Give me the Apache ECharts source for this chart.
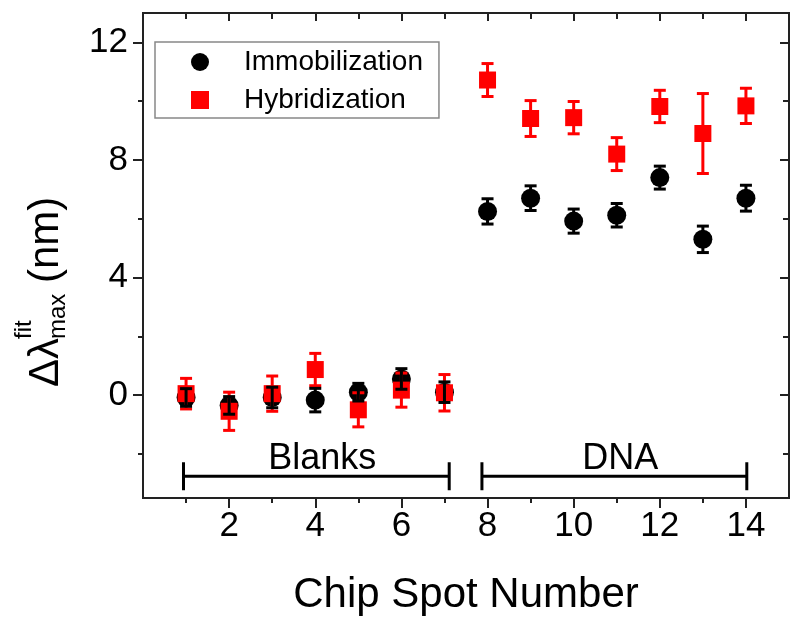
<!DOCTYPE html>
<html>
<head>
<meta charset="utf-8">
<script src="https://cdn.jsdelivr.net/npm/echarts@6/dist/echarts.min.js"></script>
<style>html,body{margin:0;padding:0;background:#fff}#c{width:800px;height:627px}</style>
</head>
<body>
<div id="c"></div>
<script>
// ---- data ----
const spots = [1, 2, 3, 4, 5, 6, 7, 8, 9, 10, 11, 12, 13, 14];
const immobilization = [-0.08, -0.35, -0.08, -0.17, 0.1, 0.55, 0.1, 6.25, 6.7, 5.92, 6.12, 7.4, 5.3, 6.7];
const immobilizationErr = [0.3, 0.3, 0.35, 0.4, 0.3, 0.35, 0.35, 0.43, 0.42, 0.41, 0.4, 0.39, 0.45, 0.44];
const hybridization = [0.05, -0.55, 0.05, 0.87, -0.5, 0.17, 0.08, 10.72, 9.41, 9.44, 8.2, 9.82, 8.9, 9.84];
const hybridizationErr = [0.52, 0.65, 0.6, 0.55, 0.58, 0.58, 0.62, 0.56, 0.61, 0.55, 0.56, 0.55, 1.36, 0.6];
const groupNames = ['Blanks', 'DNA'];
const groupStart = [0.94, 7.87];
const groupEnd = [7.11, 14.02];
const groupLevel = -2.76;
const xMajorTicks = [2, 4, 6, 8, 10, 12, 14];
const xMinorTicks = [1, 3, 5, 7, 9, 11, 13];
const yMajorTicks = [0, 4, 8, 12];
const yMinorTicks = [-2, 2, 6, 10];
const xRange = [0, 15];
const yRange = [-3.5, 13];

// ---- chart ----
const FONT = 'Liberation Sans, Arial, sans-serif';
const AX = '#222';
const chart = echarts.init(document.getElementById('c'), null, {renderer: 'canvas'});

function xAxisDef(pos, ticks, len, inside, withLabels) {
  const a = {
    type: 'value', position: pos, min: xRange[0], max: xRange[1], gridIndex: 0,
    axisLine: {show: true, onZero: false, lineStyle: {color: AX, width: 2}},
    axisTick: {show: true, inside: inside, length: len, customValues: ticks, lineStyle: {color: AX, width: 2}},
    axisLabel: {show: withLabels, customValues: ticks, fontSize: 35, color: '#000', margin: 11, fontFamily: FONT},
    splitLine: {show: false}
  };
  if (withLabels) {
    a.name = 'Chip Spot Number';
    a.nameLocation = 'middle';
    a.nameGap = 76;
    a.nameTextStyle = {fontSize: 42, color: '#000', fontFamily: FONT};
  }
  return a;
}
function yAxisDef(pos, ticks, len, inside, withLabels) {
  return {
    type: 'value', position: pos, min: yRange[0], max: yRange[1], gridIndex: 0,
    axisLine: {show: true, onZero: false, lineStyle: {color: AX, width: 2}},
    axisTick: {show: true, inside: inside, length: len, customValues: ticks, lineStyle: {color: AX, width: 2}},
    axisLabel: {show: withLabels, customValues: ticks, fontSize: 35, color: '#000', margin: 15, fontFamily: FONT},
    splitLine: {show: false}
  };
}

function errorBarSeries(name, vals, errs, color, z) {
  return {
    type: 'custom', name: name, xAxisIndex: 0, yAxisIndex: 0, z: z,
    data: spots.map((s, i) => [s, vals[i], errs[i]]),
    encode: {x: 0, y: [1]},
    renderItem: function (params, api) {
      const x = api.value(0), y = api.value(1), e = api.value(2);
      const top = api.coord([x, y + e]);
      const bot = api.coord([x, y - e]);
      const h = 6;
      const st = {stroke: color, lineWidth: 3};
      return {
        type: 'group',
        children: [
          {type: 'line', shape: {x1: top[0], y1: top[1], x2: bot[0], y2: bot[1]}, style: st},
          {type: 'line', shape: {x1: top[0] - h, y1: top[1], x2: top[0] + h, y2: top[1]}, style: st},
          {type: 'line', shape: {x1: bot[0] - h, y1: bot[1], x2: bot[0] + h, y2: bot[1]}, style: st}
        ]
      };
    },
    silent: true
  };
}

const option = {
  animation: false,
  textStyle: {fontFamily: FONT},
  grid: {left: 143, right: 11, top: 13, bottom: 129, containLabel: false},
  xAxis: [
    xAxisDef('bottom', xMajorTicks, 10, false, true),
    xAxisDef('bottom', xMinorTicks, 5, false, false),
    xAxisDef('top', xMajorTicks, 8, true, false),
    xAxisDef('top', xMinorTicks, 6, true, false)
  ],
  yAxis: [
    yAxisDef('left', yMajorTicks, 10, false, true),
    yAxisDef('left', yMinorTicks, 5, false, false),
    yAxisDef('right', yMajorTicks, 9, true, false),
    yAxisDef('right', yMinorTicks, 6, true, false)
  ],
  legend: {
    left: 155, top: 42, orient: 'vertical',
    padding: [6, 16, 4, 36],
    itemGap: 10, itemWidth: 18, itemHeight: 18,
    borderColor: '#888', borderWidth: 1.5,
    textStyle: {fontSize: 28, color: '#000', fontFamily: FONT, padding: [0, 0, 0, 30], lineHeight: 28},
    data: [{name: 'Immobilization', icon: 'circle'}, {name: 'Hybridization', icon: 'rect'}]
  },
  series: [
    {
      type: 'scatter', name: 'Immobilization', xAxisIndex: 0, yAxisIndex: 0, z: 2,
      symbol: 'circle', symbolSize: 19, itemStyle: {color: '#000', opacity: 1},
      data: spots.map((s, i) => [s, immobilization[i]])
    },
    {
      type: 'scatter', name: 'Hybridization', xAxisIndex: 0, yAxisIndex: 0, z: 3,
      symbol: 'rect', symbolSize: 17, itemStyle: {color: '#ff0000', opacity: 1},
      data: spots.map((s, i) => [s, hybridization[i]])
    },
    errorBarSeries('hybErr', hybridization, hybridizationErr, '#ff0000', 4),
    errorBarSeries('immErr', immobilization, immobilizationErr, '#000', 5),
    {
      type: 'custom', name: 'groups', xAxisIndex: 0, yAxisIndex: 0, z: 6, silent: true,
      data: groupNames.map((g, i) => [groupStart[i], groupEnd[i], groupLevel]),
      encode: {x: [0, 1], y: 2},
      renderItem: function (params, api) {
        const l = api.coord([api.value(0), api.value(2)]);
        const r = api.coord([api.value(1), api.value(2)]);
        const st = {stroke: '#000', lineWidth: 3};
        return {
          type: 'group',
          children: [
            {type: 'line', shape: {x1: l[0], y1: l[1], x2: r[0], y2: r[1]}, style: st},
            {type: 'line', shape: {x1: l[0], y1: l[1] - 14, x2: l[0], y2: l[1] + 14}, style: st},
            {type: 'line', shape: {x1: r[0], y1: r[1] - 14, x2: r[0], y2: r[1] + 14}, style: st},
            {type: 'text', style: {text: groupNames[params.dataIndex], x: (l[0] + r[0]) / 2 + 6, y: l[1] - 17,
              textAlign: 'center', textVerticalAlign: 'middle', font: '36px ' + FONT, fill: '#000'}}
          ]
        };
      }
    }
  ],
  graphic: [
    {
      type: 'group', x: 46, y: 387, rotation: Math.PI / 2,
      children: [
        {type: 'text', x: 0, y: 0, style: {text: 'Δλ', font: '42px ' + FONT, fill: '#000', textAlign: 'left', textVerticalAlign: 'middle'}},
        {type: 'text', x: 48, y: -22, style: {text: 'fit', font: '24px ' + FONT, fill: '#000', textAlign: 'left', textVerticalAlign: 'middle'}},
        {type: 'text', x: 48, y: 12, style: {text: 'max', font: '24px ' + FONT, fill: '#000', textAlign: 'left', textVerticalAlign: 'middle'}},
        {type: 'text', x: 104, y: 0, style: {text: '(nm)', font: '42px ' + FONT, fill: '#000', textAlign: 'left', textVerticalAlign: 'middle'}}
      ]
    }
  ]
};
chart.setOption(option);
</script>
</body>
</html>
